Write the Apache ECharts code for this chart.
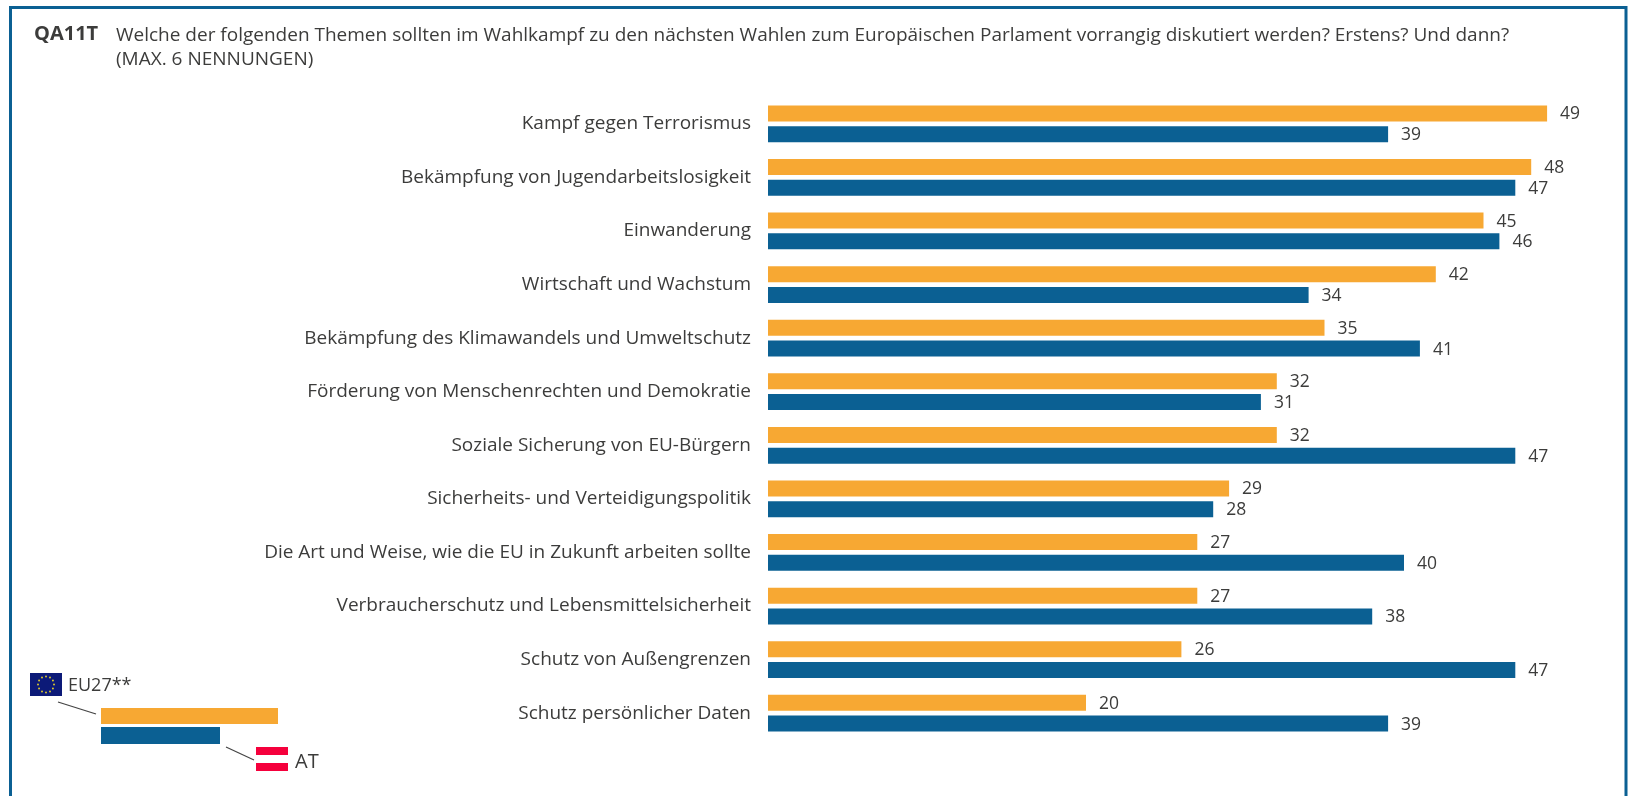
<!DOCTYPE html>
<html>
<head>
<meta charset="utf-8">
<style>html,body{margin:0;padding:0;background:#fff}#main{width:1628px;height:796px}</style>
<script src="https://cdn.jsdelivr.net/npm/echarts@6/dist/echarts.min.js"></script>
</head>
<body>
<div id="main"></div>
<script>
var categories = ['Kampf gegen Terrorismus','Bekämpfung von Jugendarbeitslosigkeit','Einwanderung','Wirtschaft und Wachstum','Bekämpfung des Klimawandels und Umweltschutz','Förderung von Menschenrechten und Demokratie','Soziale Sicherung von EU-Bürgern','Sicherheits- und Verteidigungspolitik','Die Art und Weise, wie die EU in Zukunft arbeiten sollte','Verbraucherschutz und Lebensmittelsicherheit','Schutz von Außengrenzen','Schutz persönlicher Daten'];
var eu27 = [49,48,45,42,35,32,32,29,27,27,26,20];
var at = [39,47,46,34,41,31,47,28,40,38,47,39];

var font = '"Open Sans"';
var textColor = '#3c3c3b';
var orange = '#f7a833';
var blue = '#0b6093';

// eu flag stars
var stars = [];
for (var i = 0; i < 12; i++) {
    var a = i / 12 * Math.PI * 2;
    stars.push({
        type: 'circle',
        shape: { cx: 46 + Math.cos(a) * 8, cy: 684.5 + Math.sin(a) * 8, r: 1 },
        style: { fill: '#d9c62e' }
    });
}

var option = {
    backgroundColor: '#fff',
    animation: false,
    title: [{
        text: 'QA11T',
        left: 29, top: 19,
        textStyle: { fontFamily: font, fontSize: 20, fontWeight: 'bold', color: textColor }
    }, {
        text: 'Welche der folgenden Themen sollten im Wahlkampf zu den nächsten Wahlen zum Europäischen Parlament vorrangig diskutiert werden? Erstens? Und dann?\n(MAX. 6 NENNUNGEN)',
        left: 111, top: 19,
        textStyle: { fontFamily: font, fontSize: 19, fontWeight: 'normal', color: textColor, lineHeight: 24 }
    }],
    grid: { left: 768, top: 97, width: 795, height: 643 },
    xAxis: { type: 'value', min: 0, max: 50, show: false },
    yAxis: {
        type: 'category',
        inverse: true,
        data: categories,
        axisLine: { show: false },
        axisTick: { show: false },
        axisLabel: { margin: 17, fontFamily: font, fontSize: 19, color: textColor }
    },
    series: [{
        name: 'EU27**',
        type: 'bar',
        data: eu27,
        barWidth: 16,
        barGap: '30%',
        itemStyle: { color: orange },
        label: { show: true, position: 'right', distance: 13, offset: [0, 1], fontFamily: font, fontSize: 17.5, color: textColor }
    }, {
        name: 'AT',
        type: 'bar',
        data: at,
        barWidth: 16,
        itemStyle: { color: blue },
        label: { show: true, position: 'right', distance: 13, offset: [0, 1], fontFamily: font, fontSize: 17.5, color: textColor }
    }],
    graphic: [
        // frame, open at the bottom
        { type: 'polyline', shape: { points: [[10.5, 796], [10.5, 7.5], [1626, 7.5], [1626, 796]] }, style: { fill: null, stroke: blue, lineWidth: 3 } },
        // legend key
        { type: 'rect', shape: { x: 101, y: 708, width: 177, height: 16 }, style: { fill: orange } },
        { type: 'rect', shape: { x: 101, y: 727, width: 119, height: 17 }, style: { fill: blue } },
        { type: 'line', shape: { x1: 58, y1: 702, x2: 96, y2: 714 }, style: { stroke: '#444', lineWidth: 1.2 } },
        { type: 'line', shape: { x1: 226, y1: 747, x2: 254, y2: 760 }, style: { stroke: '#444', lineWidth: 1.2 } },
        { type: 'rect', shape: { x: 30, y: 673, width: 32, height: 23 }, style: { fill: '#0c1a78' } },
        { type: 'rect', shape: { x: 256, y: 747, width: 32, height: 8 }, style: { fill: '#f5003c' } },
        { type: 'rect', shape: { x: 256, y: 763, width: 32, height: 8 }, style: { fill: '#f5003c' } },
        { type: 'text', style: { x: 68, y: 677, text: 'EU27**', fontFamily: font, fontSize: 18, fill: textColor } },
        { type: 'text', style: { x: 295, y: 752, text: 'AT', fontFamily: font, fontSize: 20, fill: textColor } }
    ].concat(stars)
};

var myChart = echarts.init(document.getElementById('main'));
myChart.setOption(option);
</script>
</body>
</html>
